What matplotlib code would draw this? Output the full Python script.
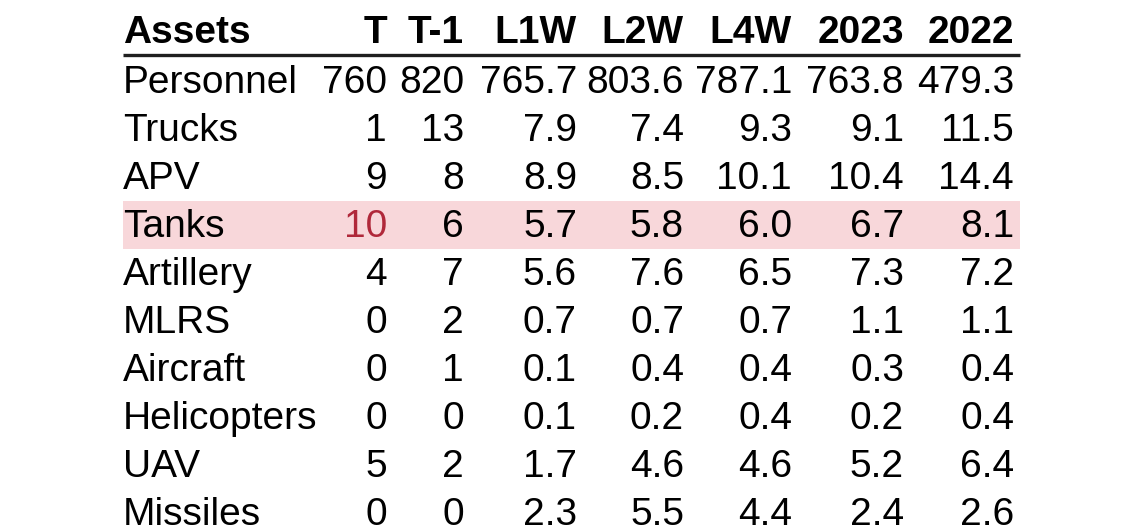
import matplotlib
matplotlib.use("Agg")
import matplotlib.pyplot as plt
from matplotlib.patches import Rectangle

# --- table data ---
columns = ["T", "T-1", "L1W", "L2W", "L4W", "2023", "2022"]
assets = ["Personnel", "Trucks", "APV", "Tanks", "Artillery", "MLRS",
          "Aircraft", "Helicopters", "UAV", "Missiles"]
col_t = ["760", "1", "9", "10", "4", "0", "0", "0", "5", "0"]
col_t1 = ["820", "13", "8", "6", "7", "2", "1", "0", "2", "0"]
col_l1w = ["765.7", "7.9", "8.9", "5.7", "5.6", "0.7", "0.1", "0.1", "1.7", "2.3"]
col_l2w = ["803.6", "7.4", "8.5", "5.8", "7.6", "0.7", "0.4", "0.2", "4.6", "5.5"]
col_l4w = ["787.1", "9.3", "10.1", "6.0", "6.5", "0.7", "0.4", "0.4", "4.6", "4.4"]
col_2023 = ["763.8", "9.1", "10.4", "6.7", "7.3", "1.1", "0.3", "0.2", "5.2", "2.4"]
col_2022 = ["479.3", "11.5", "14.4", "8.1", "7.2", "1.1", "0.4", "0.4", "6.4", "2.6"]
highlight_row = "Tanks"

# --- layout (pixels) ---
W, H = 1140, 528
LEFT_X = 123
RIGHT_EDGES = [387, 464, 577, 684, 792, 904, 1014]
HEADER_BASE = 43
ROW0_BASE = 93
ROW_STEP = 48
FS = 28

plt.rcParams["font.family"] = ["Liberation Sans", "DejaVu Sans"]

fig = plt.figure(figsize=(W / 100, H / 100), dpi=100)
ax = fig.add_axes([0, 0, 1, 1])
ax.set_xlim(0, W)
ax.set_ylim(H, 0)
ax.axis("off")

# header
ax.text(LEFT_X, HEADER_BASE, "Assets", fontsize=FS, fontweight="bold",
        ha="left", va="baseline")
for x, c in zip(RIGHT_EDGES, columns):
    ax.text(x, HEADER_BASE, c, fontsize=FS, fontweight="bold",
            ha="right", va="baseline")
ax.plot([123, 1020], [55, 55], color="#1f1f1f", lw=2.4, solid_capstyle="butt")

# rows (last row runs off the bottom edge, as in the source)
cols = [col_t, col_t1, col_l1w, col_l2w, col_l4w, col_2023, col_2022]
for i, name in enumerate(assets):
    base = ROW0_BASE + i * ROW_STEP
    if name == highlight_row:
        ax.add_patch(Rectangle((123, base - 36), 897, 48,
                               facecolor="#f8d7da", edgecolor="none", zorder=0))
    ax.text(LEFT_X, base, name, fontsize=FS, ha="left", va="baseline")
    for j, (x, col) in enumerate(zip(RIGHT_EDGES, cols)):
        color = "#b0283a" if (name == highlight_row and j == 0) else "black"
        ax.text(x, base, col[i], fontsize=FS, ha="right", va="baseline",
                color=color)

fig.savefig("out.png", dpi=100, facecolor="white")
